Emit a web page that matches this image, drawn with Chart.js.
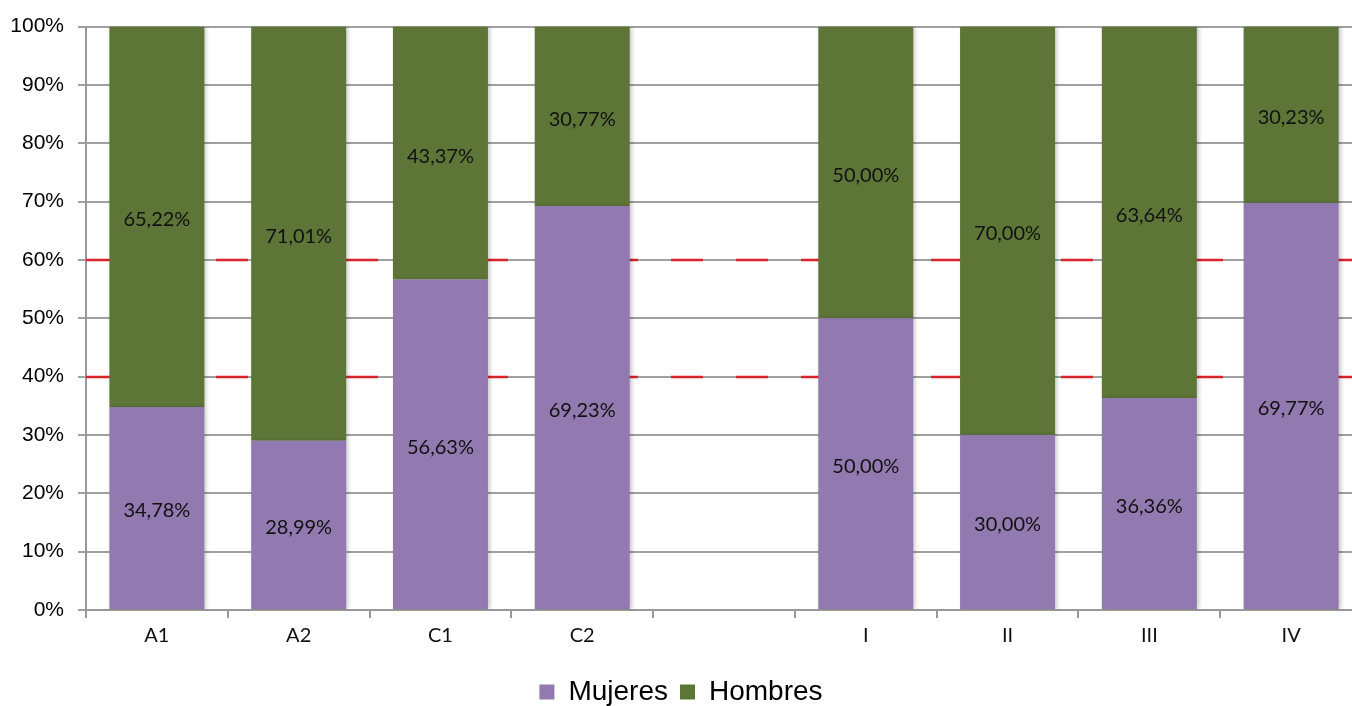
<!DOCTYPE html>
<html>
<head>
<meta charset="utf-8">
<script src="https://cdn.jsdelivr.net/npm/chart.js@4"></script>
<style>
  html, body { margin: 0; padding: 0; overflow: hidden; background: #fff; }
  #wrap { width: 1394px; height: 720px; }
</style>
</head>
<body>
<div id="wrap"><canvas id="myChart" width="1394" height="720"></canvas></div>
<script>
const categories = ['A1', 'A2', 'C1', 'C2', '', 'I', 'II', 'III', 'IV'];
const mujeres = [34.78, 28.99, 56.63, 69.23, null, 50.00, 30.00, 36.36, 69.77];
const hombres = [65.22, 71.01, 43.37, 30.77, null, 50.00, 70.00, 63.64, 30.23];
const yTicks = [0, 10, 20, 30, 40, 50, 60, 70, 80, 90, 100];
const refLines = [40, 60];

function pct(v) {
  return v.toFixed(2).replace('.', ',') + '%';
}

// red dashed lines at 40% and 60%, drawn under the bars
const refLinePlugin = {
  id: 'refLines',
  beforeDatasetsDraw(chart) {
    const ctx = chart.ctx;
    const area = chart.chartArea;
    const y = chart.scales.y;
    ctx.save();
    ctx.strokeStyle = '#d8232a';
    ctx.lineWidth = 2.5;
    ctx.setLineDash([32, 33]);
    refLines.forEach(v => {
      const py = Math.round(y.getPixelForValue(v));
      ctx.beginPath();
      ctx.moveTo(area.left, py);
      ctx.lineTo(area.right, py);
      ctx.stroke();
    });
    ctx.restore();
  }
};

// light shadow on the bars
const shadowPlugin = {
  id: 'barShadow',
  beforeDatasetDraw(chart) {
    const ctx = chart.ctx;
    ctx.save();
    ctx.shadowColor = 'rgba(0,0,0,0.22)';
    ctx.shadowBlur = 4;
    ctx.shadowOffsetX = 2;
    ctx.shadowOffsetY = 0;
  },
  afterDatasetDraw(chart) {
    chart.ctx.restore();
  }
};

// value labels in the middle of each segment
const valueLabels = {
  id: 'valueLabels',
  afterDatasetsDraw(chart) {
    const ctx = chart.ctx;
    ctx.save();
    ctx.font = '20px Lato, "Open Sans", sans-serif';
    ctx.fillStyle = '#111';
    ctx.textAlign = 'center';
    ctx.textBaseline = 'middle';
    chart.data.datasets.forEach((ds, i) => {
      const meta = chart.getDatasetMeta(i);
      meta.data.forEach((bar, j) => {
        const v = ds.data[j];
        if (v == null) return;
        ctx.fillText(pct(v), bar.x, (bar.y + bar.base) / 2 + 3);
      });
    });
    ctx.restore();
  }
};

new Chart(document.getElementById('myChart'), {
  type: 'bar',
  data: {
    labels: categories,
    datasets: [
      { label: 'Mujeres', data: mujeres, backgroundColor: '#9279b0' },
      { label: 'Hombres', data: hombres, backgroundColor: '#5e7538' }
    ]
  },
  options: {
    responsive: false,
    animation: false,
    categoryPercentage: 1,
    barPercentage: 0.67,
    layout: { padding: { top: 25, right: 32, bottom: 4, left: 0 } },
    plugins: {
      tooltip: { enabled: false },
      legend: {
        position: 'bottom',
        labels: {
          boxWidth: 15,
          boxHeight: 15,
          padding: 12,
          color: '#000',
          font: { family: '"Liberation Sans", Arial, sans-serif', size: 28 }
        }
      }
    },
    scales: {
      x: {
        stacked: true,
        grid: { offset: true, drawOnChartArea: false, drawTicks: true, tickLength: 8, color: '#999', lineWidth: 2 },
        border: { display: true, color: '#999', width: 2 },
        ticks: { color: '#111', padding: 6, font: { family: 'Lato, "Open Sans", sans-serif', size: 20 } },
        afterFit(scale) { scale.height = 56; }
      },
      y: {
        stacked: true,
        min: 0,
        max: 100,
        afterBuildTicks(scale) { scale.ticks = yTicks.map(v => ({ value: v })); },
        grid: { color: '#a0a0a0', lineWidth: 2, tickLength: 8 },
        border: { display: true, color: '#999', width: 2 },
        ticks: {
          color: '#000',
          padding: 14,
          font: { family: '"Liberation Sans", Arial, sans-serif', size: 21 },
          callback: v => v + '%'
        },
        afterFit(scale) { scale.width = 86; }
      }
    }
  },
  plugins: [refLinePlugin, shadowPlugin, valueLabels]
});
</script>
</body>
</html>
